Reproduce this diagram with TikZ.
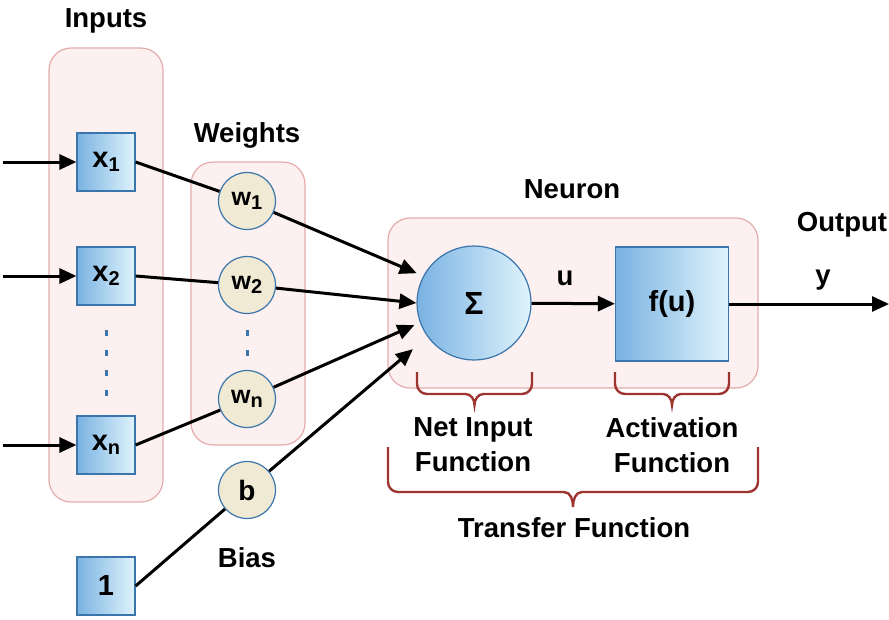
\documentclass[tikz,border=0pt]{standalone}
\usepackage{fontspec}
\setmainfont{Liberation Sans}
\usetikzlibrary{arrows.meta,positioning}
\definecolor{group edge}{RGB}{228,172,172}
\definecolor{group area}{RGB}{252,240,240}
\definecolor{unit edge}{RGB}{58,118,172}
\definecolor{unit left}{RGB}{122,178,226}
\definecolor{unit right}{RGB}{224,244,252}
\definecolor{weight area}{RGB}{240,233,212}
\definecolor{brace edge}{RGB}{158,52,48}
\newcommand{\lblfont}{\fontsize{27.5}{35}\selectfont\bfseries}
\newcommand{\idx}[1]{\raisebox{-4pt}{\fontsize{20}{20}\selectfont #1}}
\newcommand{\drawbrace}[5]{% left, right, top, bar, tip
  \pgfmathsetmacro{\bmid}{(#1+#2)/2}
  \pgfmathsetmacro{\bla}{#1+10}
  \pgfmathsetmacro{\blb}{\bmid-9}
  \pgfmathsetmacro{\bra}{\bmid+9}
  \pgfmathsetmacro{\brb}{#2-10}
  \pgfmathsetmacro{\bup}{#4-10}
  \draw[bracket] (#1,#3) -- (#1,\bup) to[out=-90,in=180] (\bla,#4)
    -- (\blb,#4) to[out=0,in=90] (\bmid,#5)
    to[out=90,in=180] (\bra,#4) -- (\brb,#4)
    to[out=0,in=-90] (#2,\bup) -- (#2,#3);}
\tikzset{group/.style={fill=group area, draw=group edge, line width=1.2pt, rounded corners=22pt},
	unit/.style={draw=unit edge, line width=1.2pt, left color=unit left, right color=unit right,
		minimum size=58pt, inner sep=0pt, font=\fontsize{29}{29}\selectfont\bfseries},
	weight/.style={circle, draw=unit edge, line width=1.2pt, fill=weight area,
		minimum size=57pt, inner sep=0pt, font=\fontsize{25}{25}\selectfont\bfseries},
	label/.style={font=\lblfont, align=center, inner sep=0pt},
	link/.style={line width=3pt},
	arrow/.style={link, -{Triangle[length=17pt,width=15pt]}},
	bracket/.style={draw=brace edge, line width=2.4pt},
	dotline/.style={draw=unit edge, line width=3pt, dash pattern=on 6pt off 14pt}}

\begin{document}
\begin{tikzpicture}[x=1pt,y=-1pt]
	\useasboundingbox (0,0) rectangle (889,619);
	% groups
	\draw[group] (49,48) rectangle (163,502);
	\draw[group] (191,162) rectangle (305,445);
	\draw[group] (388,218) rectangle (758,388);
	% titles
	\node[label] (inputs) at (106,21) {Inputs};
	\node[label] (weights) at (247,135) {Weights};
	\node[label] (neuron) at (572,189) {Neuron};
	\node[label] (output) at (842,225) {Output};
	\node[label] (bias) at (247,558) {Bias};
	% inputs
	\node[unit] (x1) at (106,162) {x\idx{1}};
	\node[unit] (x2) at (106,276) {x\idx{2}};
	\node[unit] (xn) at (106,445) {x\idx{n}};
	\node[unit] (one) at (106,586) {1};
	\draw[dotline] (106,330) -- (106,400);
	% weights
	\node[weight] (w1) at (247,201) {w\idx{1}};
	\node[weight] (w2) at (247,285) {w\idx{2}};
	\node[weight] (wn) at (247,399) {w\idx{n}};
	\node[weight, font=\fontsize{28}{28}\selectfont\bfseries] (b) at (247,490) {b};
	\draw[dotline] (247,330) -- (247,358);
	% neuron
	\node[unit, circle, minimum size=114pt, font=\fontsize{32}{32}\selectfont\bfseries] (sum) at (474,303) {Σ};
	\node[unit, minimum width=113pt, minimum height=114pt] (act) at (672,304) {f(u)};
	\coordinate (out) at (889,304);
	\node[label] (u) at (565,278) {u};
	\node[label] (y) at (823,280) {y};
	% connectors
	\foreach \i/\y in {1/162,2/276,n/445}{
		\coordinate (in\i) at (3,\y);
		\draw[arrow] (in\i) -- (x\i);
	}
	\draw[link] (x1.east) -- (w1);
	\draw[link] (x2.east) -- (w2);
	\draw[link] (xn.east) -- (wn);
	\draw[link] (one.east) -- (b);
	\draw[arrow, shorten >=7pt] (w1) -- (sum.152);
	\draw[arrow] (w2) -- (sum.180);
	\draw[arrow, shorten >=6pt] (wn) -- (sum.200);
	\draw[arrow, shorten >=19pt] (b) -- (sum.216);
	\draw[arrow] (sum) -- (act);
	\draw[arrow] (act) -- (out);
	% braces
	\drawbrace{417}{532}{372}{394}{405}
	\drawbrace{615}{729}{372}{394}{405}
	\drawbrace{388}{758}{447}{492}{507}
	\node[label] (netinput) at (473,445) {Net Input\\Function};
	\node[label] (activation) at (672,445) {Activation\\Function};
	\node[label] (transfer) at (574,528) {Transfer Function};
\end{tikzpicture}
\end{document}
